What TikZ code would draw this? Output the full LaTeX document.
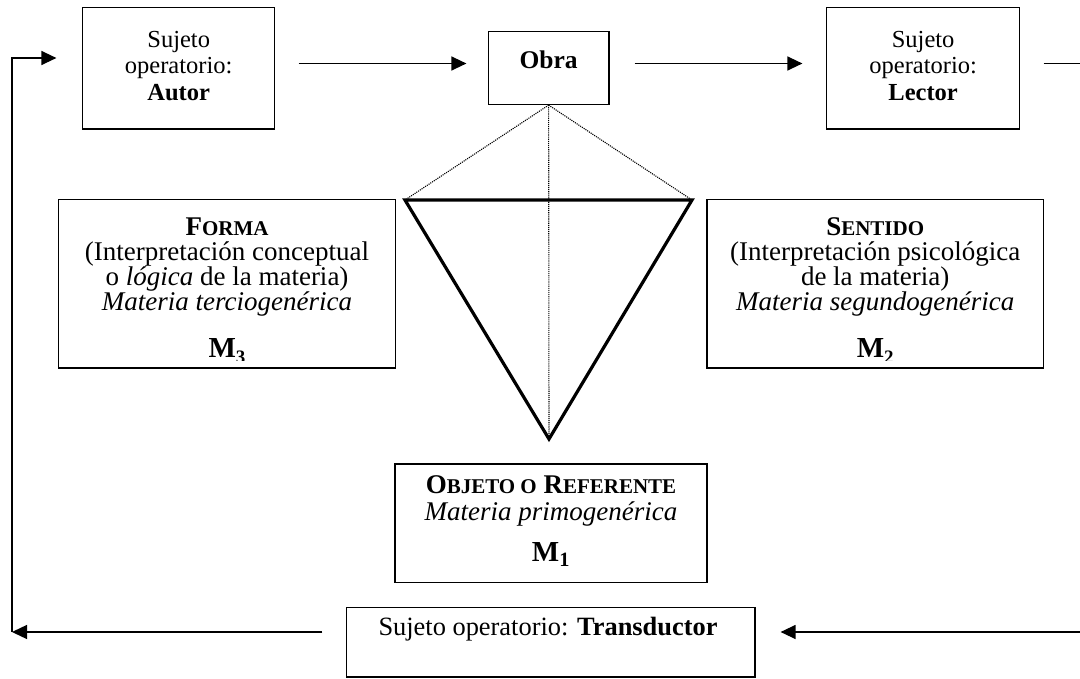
\documentclass[tikz,border=0pt]{standalone}
\usepackage{fontspec}
\setmainfont{Liberation Serif}
\usetikzlibrary{arrows.meta}
\newcommand\fs[2]{\fontsize{#1}{#2}\selectfont}
\newcommand\smc[2]{{\fontsize{#1}{#1}\selectfont #2}}
\newcommand\st{\rule{0pt}{22pt}}
\newcommand\lowsub[1]{\raisebox{-6.3pt}{\fontsize{19}{19}\selectfont #1}}
\setlength\lineskiplimit{-100pt}
\begin{document}
\begin{tikzpicture}[x=1pt,y=-1pt,
  box/.style={draw, line width=1.2pt, inner sep=0pt},
  txt/.style={inner sep=0pt, align=center, anchor=north},
  ln/.style={line width=1.3pt},
  arr/.style={line width=1.3pt, -{Triangle[length=15pt,width=14pt]}},
  tri/.style={line width=3.2pt, line join=miter},
  dots/.style={line width=1.1pt, dash pattern=on 1.1pt off 1pt}]
\useasboundingbox (0,0) rectangle (1080,679);
% boxes
\node[box, minimum width=192.2pt, minimum height=121.5pt] (autor) at (178.7,68.25) {};
\node[box, minimum width=120.7pt, minimum height=72.8pt] (obra) at (548.65,68.1) {};
\node[box, minimum width=193.1pt, minimum height=121.5pt] (lector) at (923.15,68.25) {};
\node[box, minimum width=337.4pt, minimum height=168.5pt] (forma) at (227,283.75) {};
\node[box, minimum width=336.4pt, minimum height=168.5pt] (sentido) at (875.2,283.75) {};
\node[box, minimum width=312pt, minimum height=118.7pt] (objeto) at (551,523.35) {};
\node[box, minimum width=408.3pt, minimum height=69.3pt] (transductor) at (550.85,642.35) {};
% texts
\node[txt, font=\fs{24.5}{26.7}] (autorT) at (178.7,25) {\st Sujeto\\operatorio:\\\textbf{Autor}};
\node[txt, font=\fs{24.5}{26.7}] (lectorT) at (923.15,25) {\st Sujeto\\operatorio:\\\textbf{Lector}};
\node[inner sep=0pt, anchor=base, font=\bfseries\fs{25.5}{26.7}] (obraT) at (548.65,68.3) {Obra};
\node[txt, font=\fs{27}{24.8}] (formaT) at (227,213.7) {\st\textbf{F\smc{21}{ORMA}}\\(Interpretación conceptual\\o \textit{lógica} de la materia)\\\textit{Materia terciogenérica}};
\node[txt, font=\fs{27}{24.8}] (sentidoT) at (875.2,213.7) {\st\textbf{S\smc{21}{ENTIDO}}\\(Interpretación psicológica\\de la materia)\\\textit{Materia segundogenérica}};
\begin{scope}
\clip (58,199) rectangle (1044,360.5);
\node[inner sep=0pt, anchor=base, font=\bfseries\fs{29}{29}] (m3) at (227,357.7) {M\lowsub{3}};
\node[inner sep=0pt, anchor=base, font=\bfseries\fs{29}{29}] (m2) at (875.2,357.7) {M\lowsub{2}};
\end{scope}
\node[txt, font=\fs{27}{26.7}] (objetoT) at (551,471.3) {\st\textbf{O\smc{21}{BJETO O} R\smc{21}{EFERENTE}}\\\textit{Materia primogenérica}};
\node[inner sep=0pt, anchor=base, font=\bfseries\fs{29}{29}] (m1) at (551,561.7) {M\textsubscript{1}};
\node[inner sep=0pt, anchor=base, font=\fs{26.4}{26.7}] (transductorT) at (548,635) {Sujeto operatorio: \textbf{Transductor}};
% triangle
\coordinate (ta) at (405,200);
\coordinate (tb) at (692,200);
\coordinate (tc) at (549,439);
\draw[dots] (obra.south) -- (ta);
\draw[dots] (obra.south) -- (tb);
\draw[dots] (obra.south) -- (tc);
\draw[tri] (ta) -- (tb) -- (tc) -- cycle;
% arrows
\coordinate (bl) at (12,632);
\coordinate (br) at (1080,632);
\coordinate (tr) at (1080,63.5);
\draw[arr, shorten <=23.2pt, shorten >=21.3pt] ([yshift=4.75pt]autor.east) -- ([yshift=4.6pt]obra.west);
\draw[arr, shorten <=25pt, shorten >=23.6pt] ([yshift=4.6pt]obra.east) -- ([yshift=4.75pt]lector.east -| lector.west);
\draw[ln, shorten <=23.3pt] ([yshift=4.75pt]lector.east) -- (tr);
\draw[arr, shorten >=25pt] (br) -- ([yshift=10.35pt]transductor.east);
\draw[arr, shorten <=23.7pt] ([yshift=10.35pt]transductor.west) -- (bl);
\draw[arr, shorten >=25.6pt] (bl) |- ([yshift=10.25pt]autor.west);
\end{tikzpicture}
\end{document}
